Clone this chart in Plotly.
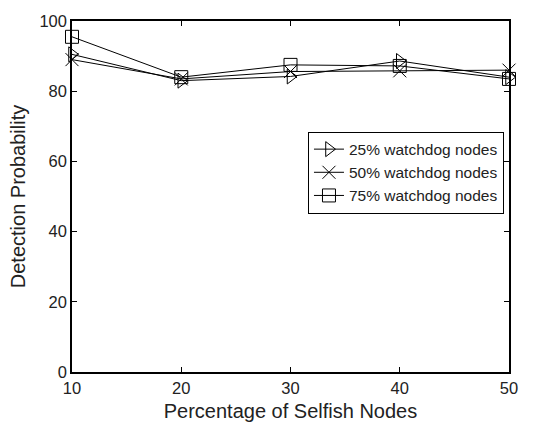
import plotly.graph_objects as go

x_vals = [10, 20, 30, 40, 50]
y_25 = [90.5, 83.0, 84.2, 88.6, 84.0]
y_50 = [89.0, 83.5, 85.6, 85.8, 86.0]
y_75 = [95.5, 84.0, 87.5, 87.2, 83.5]
names = ["25% watchdog nodes", "50% watchdog nodes", "75% watchdog nodes"]
symbols = ["triangle-right-open", "x-thin-open", "square-open"]

fig = go.Figure()
for ys, nm, sym in zip([y_25, y_50, y_75], names, symbols):
    fig.add_trace(go.Scatter(
        x=x_vals, y=ys, name=nm, mode="lines+markers",
        line=dict(color="black", width=1),
        marker=dict(symbol=sym, size=13, color="black",
                    line=dict(color="black", width=1)),
        cliponaxis=False,
    ))

axis_common = dict(
    showline=True, linecolor="black", linewidth=1.5, mirror="ticks",
    ticks="inside", ticklen=5, tickcolor="black", showgrid=False,
    zeroline=False, tickfont=dict(size=16.5, color="#222"),
)
fig.update_layout(
    width=544, height=431,
    margin=dict(l=72, r=35, t=15, b=58),
    plot_bgcolor="white", paper_bgcolor="white",
    font=dict(family="Liberation Sans, Arial", color="#222"),
    xaxis=dict(range=[10, 50], tickvals=[10, 20, 30, 40, 50],
               title=dict(text="Percentage of Selfish Nodes", font=dict(size=20), standoff=8),
               **axis_common),
    yaxis=dict(range=[0, 100], tickvals=[0, 20, 40, 60, 80, 100],
               title=dict(text="Detection Probability", font=dict(size=20), standoff=8),
               **axis_common),
    legend=dict(x=0.54, y=0.685, xanchor="left", yanchor="top",
                bordercolor="black", borderwidth=1, bgcolor="white",
                font=dict(size=15.5), tracegroupgap=0,
                itemwidth=30),
    showlegend=True,
)
fig.write_html("out.html")
